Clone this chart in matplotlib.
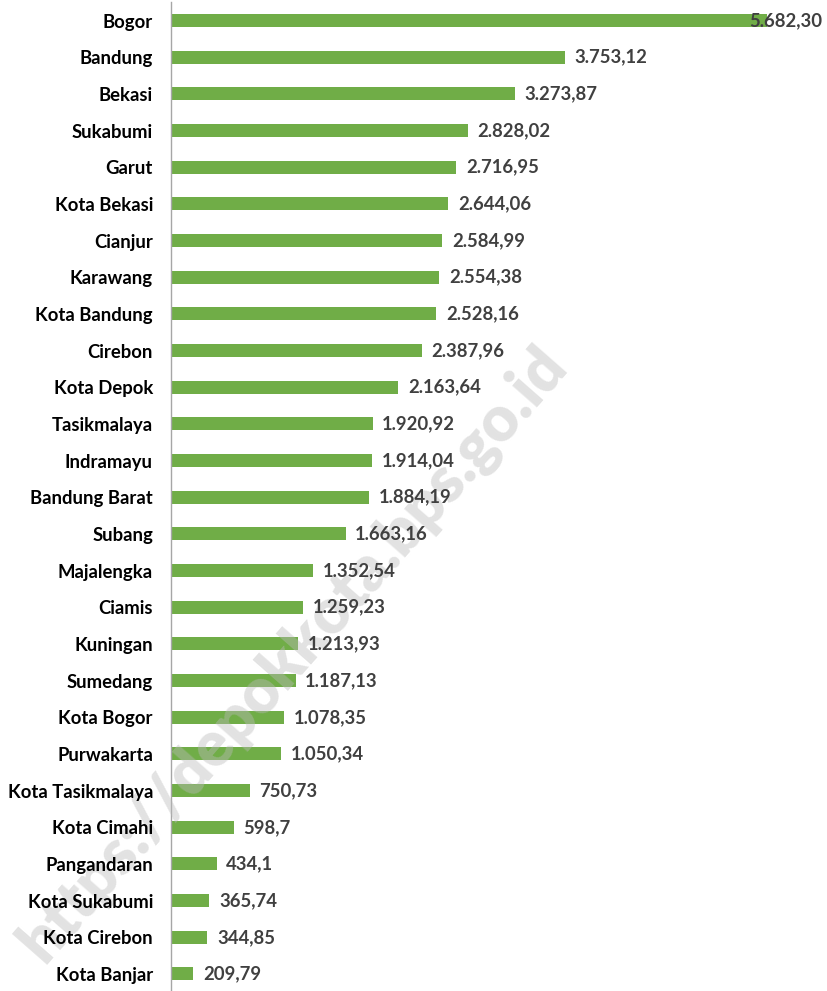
import matplotlib
matplotlib.use("Agg")
import matplotlib.pyplot as plt
import numpy as np

regions = ["Bogor", "Bandung", "Bekasi", "Sukabumi", "Garut", "Kota Bekasi",
           "Cianjur", "Karawang", "Kota Bandung", "Cirebon", "Kota Depok",
           "Tasikmalaya", "Indramayu", "Bandung Barat", "Subang", "Majalengka",
           "Ciamis", "Kuningan", "Sumedang", "Kota Bogor", "Purwakarta",
           "Kota Tasikmalaya", "Kota Cimahi", "Pangandaran", "Kota Sukabumi",
           "Kota Cirebon", "Kota Banjar"]
values = [5682.30, 3753.12, 3273.87, 2828.02, 2716.95, 2644.06, 2584.99,
          2554.38, 2528.16, 2387.96, 2163.64, 1920.92, 1914.04, 1884.19,
          1663.16, 1352.54, 1259.23, 1213.93, 1187.13, 1078.35, 1050.34,
          750.73, 598.7, 434.1, 365.74, 344.85, 209.79]
value_labels = ["5.682,30", "3.753,12", "3.273,87", "2.828,02", "2.716,95",
                "2.644,06", "2.584,99", "2.554,38", "2.528,16", "2.387,96",
                "2.163,64", "1.920,92", "1.914,04", "1.884,19", "1.663,16",
                "1.352,54", "1.259,23", "1.213,93", "1.187,13", "1.078,35",
                "1.050,34", "750,73", "598,7", "434,1", "365,74", "344,85",
                "209,79"]

plt.rcParams['font.family'] = ['Lato', 'DejaVu Sans']

fig = plt.figure(figsize=(8.27, 9.91), dpi=100)
ax = fig.add_axes([0.2068, -0.0013, 0.788, 0.9991])

y = np.arange(len(regions))
ax.barh(y, values, height=0.355, color='#70AD47', zorder=2)
ax.set_ylim(len(regions) - 0.5, -0.5)
ax.set_xlim(0, 6210)

fs = 13.3
for yi, v, lab in zip(y, values, value_labels):
    if yi == 0:
        # largest bar: label pushed back inside the plot area
        ax.text(1.0, yi, lab, transform=ax.get_yaxis_transform(), ha='right',
                va='center', fontsize=fs, fontweight='bold', color='#404040', zorder=4)
    else:
        ax.annotate(lab, (v, yi), xytext=(7, 0), textcoords='offset points',
                    ha='left', va='center', fontsize=fs, fontweight='bold',
                    color='#404040', zorder=4)

ax.set_yticks(y)
ax.set_yticklabels(regions, fontsize=fs, fontweight='bold', color='black')
ax.tick_params(axis='y', length=0, pad=13)
ax.yaxis.set_zorder(5)
ax.set_xticks([])
for s in ['top', 'right', 'bottom']:
    ax.spines[s].set_visible(False)
ax.spines['left'].set_color('#a6a6a6')
ax.spines['left'].set_linewidth(1)

# watermark, over the bars but under the texts
ax.text(0.355, 0.34, "https://depokkota.bps.go.id", rotation=48.7,
        transform=fig.transFigure, clip_on=False,
        ha='center', va='center', fontsize=45, fontweight='heavy',
        color='#bbbbbb', alpha=0.42, zorder=3)

fig.savefig('out.png', dpi=100)
